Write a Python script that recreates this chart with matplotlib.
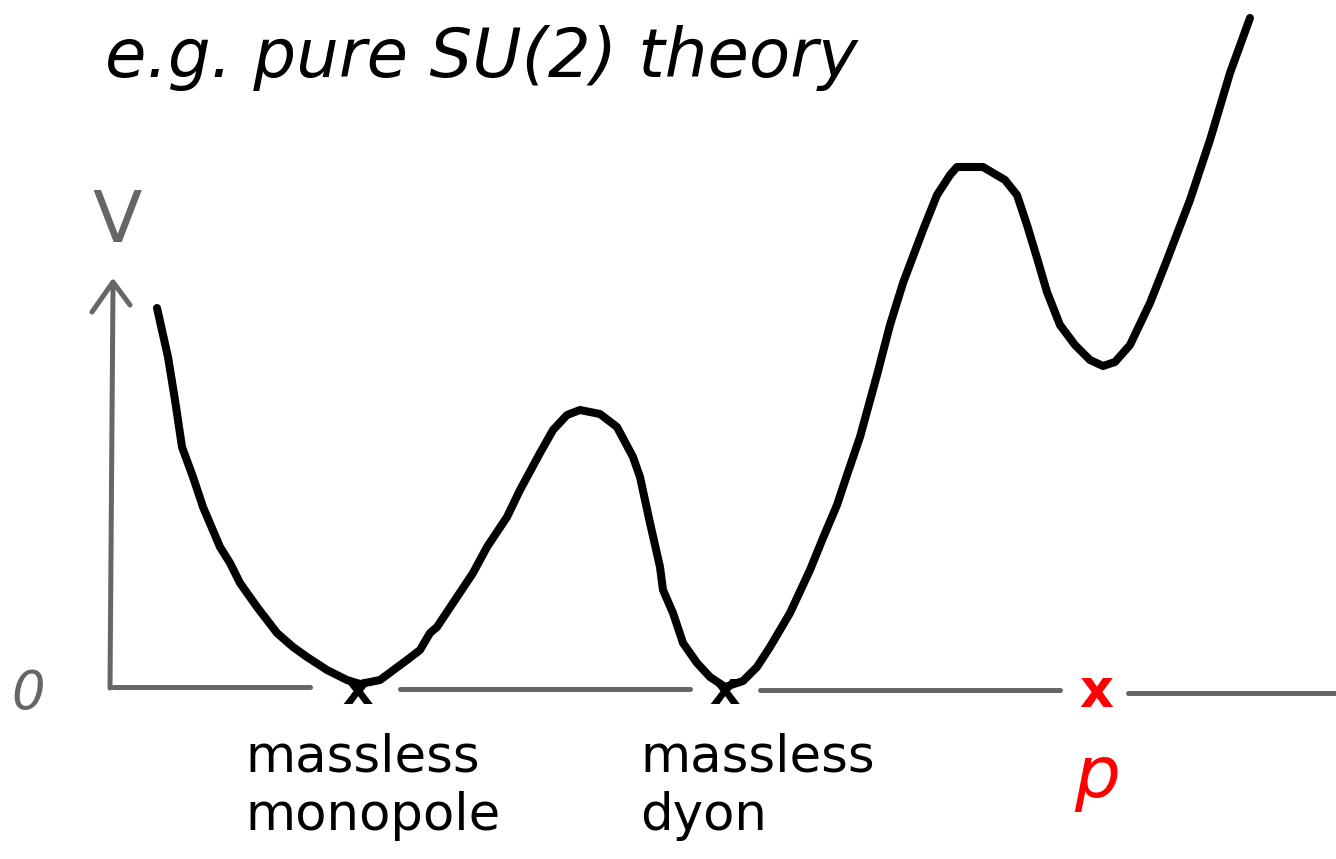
#!/usr/bin/env python3

import matplotlib.pyplot as plt

# potential curve, traced in image pixel coordinates (y grows downward)
curve_x = [157, 168, 175, 182, 193, 203, 220, 230, 240, 257, 277, 293, 307, 327,
           347, 360, 380, 407, 420, 430, 437, 453, 473, 487, 507, 520, 540, 553,
           567, 580, 600, 617, 633, 640, 650, 660, 663, 673, 683, 697, 710, 725,
           743, 757, 770, 790, 810, 823, 837, 847, 860, 877, 890, 903, 923, 937,
           950, 957, 983, 1005, 1017, 1027, 1037, 1047, 1060, 1075, 1090, 1103,
           1115, 1130, 1150, 1167, 1190, 1210, 1230, 1250]
curve_y = [308, 357, 400, 447, 477, 507, 547, 563, 583, 607, 633, 647, 657, 670,
           680, 684, 680, 660, 650, 633, 627, 603, 573, 547, 517, 490, 453, 430,
           415, 410, 414, 427, 457, 477, 523, 567, 590, 613, 643, 663, 677, 687,
           681, 667, 647, 613, 570, 538, 505, 475, 437, 375, 325, 283, 230, 195,
           175, 167, 167, 180, 195, 225, 258, 292, 325, 345, 360, 366,
           362, 345, 303, 260, 200, 140, 73, 18]

# horizontal axis pieces (start x, end x, y)
axis_pieces = [(113, 310, 687), (400, 690, 689), (760, 1060, 690), (1128, 1335, 693)]

# minima marks and labels
minima_x = [358, 725]
minima_labels = ["massless\nmonopole", "massless\ndyon"]
label_x = [245, 640]

grey = "#666666"

fig = plt.figure(figsize=(13.36, 8.59), dpi=100)
ax = fig.add_axes([0, 0, 1, 1])
ax.set_xlim(0, 1336)
ax.set_ylim(859, 0)
ax.axis("off")

# vertical axis with arrow head
ax.plot([113, 110], [285, 688], color=grey, lw=3.6, solid_capstyle="round")
ax.plot([92, 113, 130], [312, 282, 305], color=grey, lw=3.6,
        solid_capstyle="round", solid_joinstyle="round")

for x0, x1, y in axis_pieces:
    ax.plot([x0, x1], [y, y], color=grey, lw=3.6, solid_capstyle="round")

ax.plot(curve_x, curve_y, color="black", lw=5.8, solid_capstyle="round",
        solid_joinstyle="round")

for mx in minima_x:
    ax.text(mx, 692, "x", color="black", fontsize=34, ha="center", va="center",
            fontweight="bold")

for lx, lab in zip(label_x, minima_labels):
    ax.text(lx, 733, lab, color="black", fontsize=37, ha="left", va="top",
            linespacing=1.2)

ax.text(1096, 692, "x", color="red", fontsize=38, ha="center", va="center",
        fontweight="bold")
ax.text(1097, 778, "p", color="red", fontsize=52, ha="center", va="center",
        style="italic")

ax.text(117, 222, "V", color=grey, fontsize=52, ha="center", va="center")
ax.text(28, 694, "0", color=grey, fontsize=38, ha="center", va="center",
        style="italic")

ax.text(105, 58, "e.g. pure SU(2) theory", color="black", fontsize=48.5,
        ha="left", va="center", style="italic")

plt.savefig("out.png")
